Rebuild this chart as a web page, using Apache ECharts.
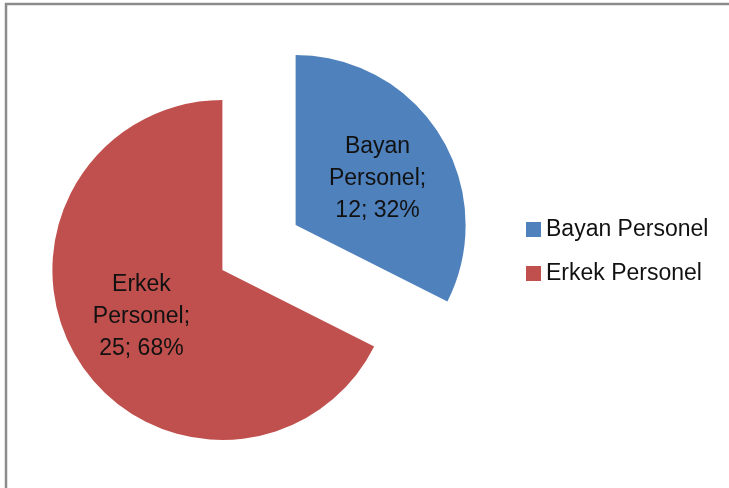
<!DOCTYPE html>
<html>
<head>
<meta charset="utf-8">
<script src="https://cdn.jsdelivr.net/npm/echarts@6/dist/echarts.min.js"></script>
<style>
  html, body { margin: 0; padding: 0; background: #fff; }
  #chart { width: 729px; height: 488px; }
</style>
</head>
<body>
<div id="chart"></div>
<script>
// veriler
const categories = ['Bayan Personel', 'Erkek Personel'];
const values = [12, 25];
const colors = ['#4F81BD', '#C0504D'];
const labelPad = [[0, 0, 0, 14], [0, 12, 0, 0]];

const chart = echarts.init(document.getElementById('chart'));

chart.setOption({
  animation: false,
  textStyle: { fontFamily: 'Liberation Sans' },
  // dış çerçeve
  graphic: [
    {
      type: 'rect',
      shape: { x: 6, y: 4, width: 760, height: 520 },
      style: { fill: 'none', stroke: '#8c8c8c', lineWidth: 2.5 }
    }
  ],
  legend: {
    orient: 'vertical',
    left: 526,
    top: 218,
    padding: 0,
    itemWidth: 15,
    itemHeight: 15,
    itemGap: 21,
    icon: 'rect',
    selectedMode: false,
    data: categories,
    textStyle: { fontSize: 23, color: '#111', fontFamily: 'Liberation Sans' }
  },
  series: [
    {
      type: 'pie',
      center: [259, 247.5],
      radius: 170,
      startAngle: 90,
      clockwise: true,
      selectedMode: 'multiple',
      selectedOffset: 43,
      emphasis: { disabled: true },
      label: {
        position: 'inside',
        formatter: (p) => p.name.replace(' ', '\n') + ';\n' + p.value + '; ' + Math.round(p.percent) + '%',
        fontSize: 23,
        lineHeight: 32,
        color: '#111',
        fontFamily: 'Liberation Sans'
      },
      labelLine: { show: false },
      data: categories.map((name, i) => ({
        name: name,
        value: values[i],
        selected: true,
        itemStyle: { color: colors[i] },
        label: { padding: labelPad[i] }
      }))
    }
  ]
});
</script>
</body>
</html>
